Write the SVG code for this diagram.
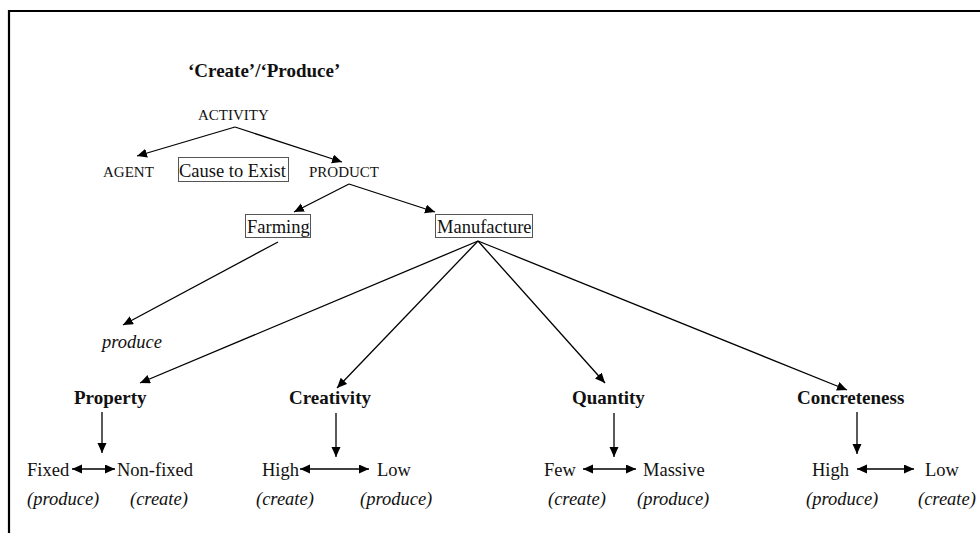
<svg xmlns="http://www.w3.org/2000/svg" width="980" height="533" viewBox="0 0 980 533">
<defs>
<marker id="ah" markerUnits="userSpaceOnUse" markerWidth="11" markerHeight="10" refX="10" refY="4.5" orient="auto-start-reverse" viewBox="0 0 11 10">
<path d="M0,0 L10,4.5 L0,9 Z" fill="#000"/>
</marker>
</defs>
<style>
text{font-family:"Liberation Serif","Times New Roman",serif;fill:#111}
.cap{font-size:15px}
.n{font-size:18.5px}
.b{font-size:19px;font-weight:bold}
.i{font-size:18.5px;font-style:italic}
.box{fill:none;stroke:#555;stroke-width:1}
#connectors line{stroke:#000;stroke-width:1.3;marker-end:url(#ah)}
#connectors line.dbl{marker-start:url(#ah)}
</style>
<rect width="980" height="533" fill="#fff"/>
<path d="M9,533 V11 H980" fill="none" stroke="#000" stroke-width="2.2"/>
<g id="title"><text class="b" x="188" y="77">‘Create’/‘Produce’</text></g>
<g id="activity"><text class="cap" x="198" y="120">ACTIVITY</text></g>
<g id="agent"><text class="cap" x="103" y="177">AGENT</text></g>
<g id="cause"><rect class="box" x="178.5" y="157.5" width="110" height="24"/><text class="n" x="179" y="177">Cause to Exist</text></g>
<g id="product"><text class="cap" x="309" y="177">PRODUCT</text></g>
<g id="farming"><rect class="box" x="245.5" y="214.5" width="65" height="23"/><text class="n" x="247" y="233">Farming</text></g>
<g id="manufacture"><rect class="box" x="435.5" y="214.5" width="97" height="23"/><text class="n" x="437" y="233">Manufacture</text></g>
<g id="produce"><text class="i" x="102" y="348">produce</text></g>
<g id="property"><text class="b" x="74" y="404">Property</text></g>
<g id="creativity"><text class="b" x="289" y="404">Creativity</text></g>
<g id="quantity"><text class="b" x="572" y="404">Quantity</text></g>
<g id="concreteness"><text class="b" x="797" y="404">Concreteness</text></g>
<g id="fixed"><text class="n" x="27" y="476">Fixed</text><text class="i" x="27" y="505">(produce)</text></g>
<g id="nonfixed"><text class="n" x="117" y="476">Non-fixed</text><text class="i" x="130" y="505">(create)</text></g>
<g id="cr-high"><text class="n" x="262" y="476">High</text><text class="i" x="256" y="505">(create)</text></g>
<g id="cr-low"><text class="n" x="377" y="476">Low</text><text class="i" x="360" y="505">(produce)</text></g>
<g id="few"><text class="n" x="544" y="476">Few</text><text class="i" x="548" y="505">(create)</text></g>
<g id="massive"><text class="n" x="643" y="476">Massive</text><text class="i" x="637" y="505">(produce)</text></g>
<g id="co-high"><text class="n" x="812" y="476">High</text><text class="i" x="806" y="505">(produce)</text></g>
<g id="co-low"><text class="n" x="925" y="476">Low</text><text class="i" x="918" y="505">(create)</text></g>
<g id="connectors">
<line x1="235" y1="127" x2="137" y2="156"/>
<line x1="235" y1="127" x2="342" y2="162"/>
<line x1="349" y1="184" x2="294" y2="212"/>
<line x1="349" y1="184" x2="435" y2="212"/>
<line x1="278" y1="242" x2="123" y2="325"/>
<line x1="478" y1="241" x2="140" y2="383"/>
<line x1="478" y1="241" x2="337" y2="388"/>
<line x1="478" y1="241" x2="605" y2="383"/>
<line x1="478" y1="241" x2="847" y2="390"/>
<line x1="102" y1="412" x2="102" y2="453"/>
<line x1="336" y1="413" x2="336" y2="457"/>
<line x1="614" y1="413" x2="614" y2="457"/>
<line x1="857" y1="412" x2="857" y2="454"/>
<line class="dbl" x1="72" y1="469" x2="115" y2="469"/>
<line class="dbl" x1="300" y1="469" x2="369" y2="469"/>
<line class="dbl" x1="583" y1="469" x2="636" y2="469"/>
<line class="dbl" x1="857" y1="469" x2="914" y2="469"/>
</g>
</svg>
